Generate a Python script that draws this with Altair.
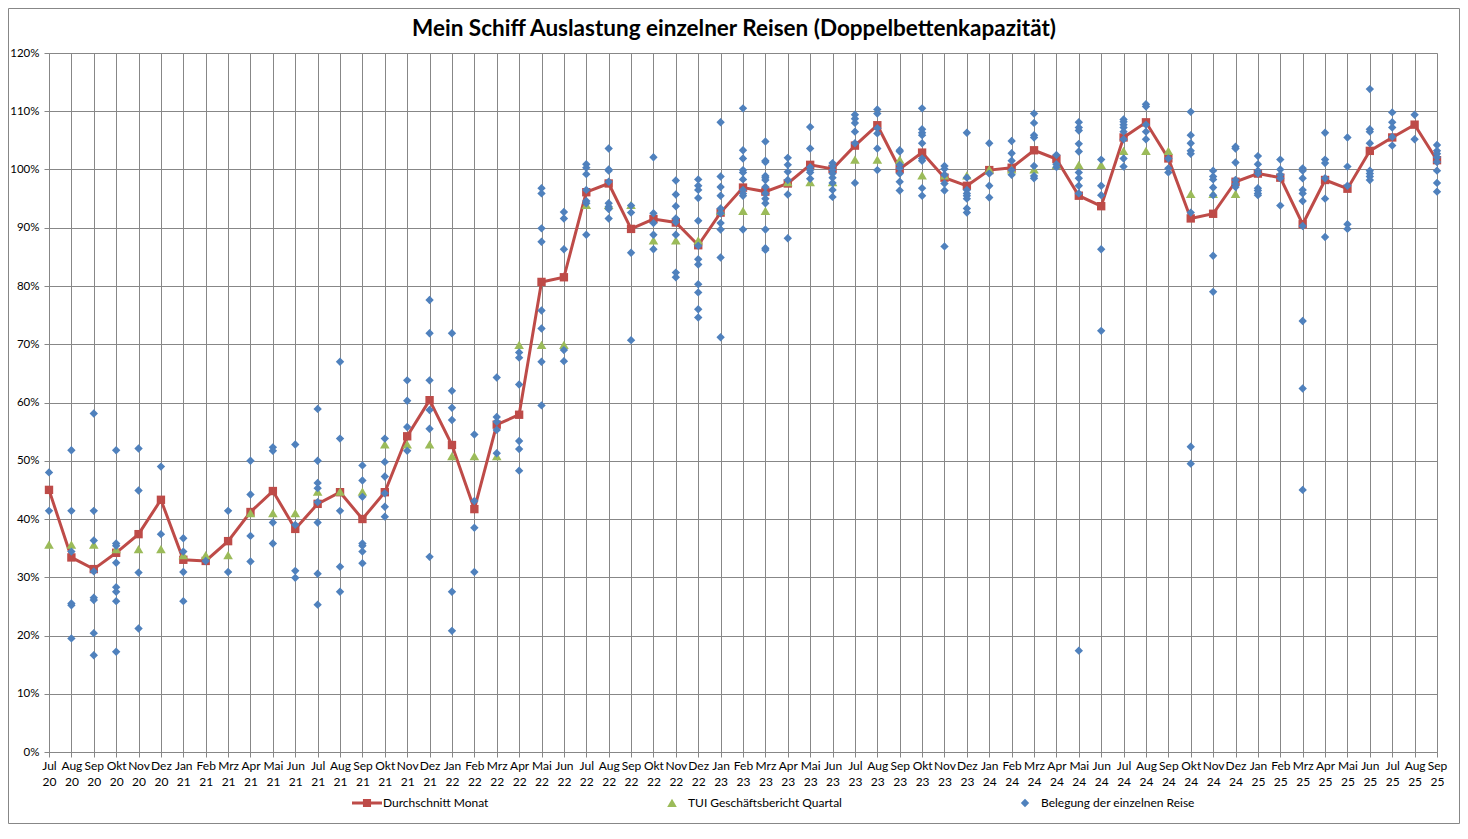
import altair as alt
import pandas as pd

# ---------------- data ----------------
title_text = "Mein Schiff Auslastung einzelner Reisen (Doppelbettenkapazität)"

month_names = ["Jan", "Feb", "Mrz", "Apr", "Mai", "Jun", "Jul", "Aug", "Sep", "Okt", "Nov", "Dez"]
months = [f"{month_names[(6 + i) % 12]} {20 + (6 + i) // 12}" for i in range(63)]

mean_month = [45.0, 33.4, 31.4, 34.2, 37.4, 43.3, 33.0, 32.8, 36.2, 41.2, 44.8, 38.3,
              42.6, 44.6, 40.0, 44.6, 54.2, 60.4, 52.7, 41.7, 56.2, 57.9, 80.7, 81.5,
              96.1, 97.6, 89.8, 91.5, 90.9, 87.0, 92.6, 96.9, 96.2, 97.6, 100.8, 100.1,
              104.1, 107.6, 100.1, 102.9, 98.6, 97.2, 99.9, 100.3, 103.3, 101.8, 95.5, 93.7,
              105.5, 108.1, 101.9, 91.6, 92.4, 97.9, 99.3, 98.6, 90.6, 98.2, 96.7, 103.2,
              105.5, 107.7, 101.6]

tui_quarter = [35.6, 35.6, 35.6, 34.8, 34.8, 34.8, 33.8, 33.8, 33.8, 41.0, 41.0, 41.0,
               44.7, 44.7, 44.7, 52.8, 52.8, 52.8, 50.8, 50.8, 50.8, 69.9, 69.9, 69.9,
               93.9, 93.9, 93.9, 87.8, 87.8, 87.8, 92.9, 92.9, 92.9, 97.8, 97.8, 97.8,
               101.7, 101.7, 101.7, 99.0, 99.0, 99.0, 100.0, 100.0, 100.0, 100.8, 100.8, 100.8,
               103.2, 103.2, 103.2, 95.8, 95.8, 95.8, None, None, None, None, None, None,
               None, None, None]

trips = [
    [48.0, 41.4],
    [51.8, 41.4, 34.4, 25.5, 25.2, 19.5],
    [58.1, 41.4, 36.3, 31.0, 26.5, 26.1, 20.4, 16.6],
    [51.8, 35.8, 35.4, 32.5, 28.3, 27.5, 25.9, 17.2],
    [52.1, 44.9, 30.8, 21.2],
    [49.0, 37.4],
    [36.7, 34.4, 30.9, 25.9],
    [32.8],
    [41.4, 30.9],
    [50.0, 44.2, 37.1, 32.7],
    [52.3, 51.7, 39.4, 35.8],
    [52.8, 39.0, 31.1, 29.9],
    [58.9, 50.0, 46.2, 45.3, 42.9, 39.4, 30.6, 25.3],
    [67.0, 53.8, 41.4, 31.8, 27.5],
    [49.2, 46.6, 43.8, 35.8, 35.4, 34.4, 32.4],
    [53.8, 49.8, 47.3, 44.4, 42.1, 40.4],
    [63.8, 60.3, 55.8, 51.7],
    [77.6, 71.9, 63.8, 58.7, 55.5, 33.5],
    [71.9, 62.0, 59.1, 57.0, 27.5, 20.8],
    [54.5, 43.1, 38.5, 30.9],
    [64.3, 57.5, 56.7, 55.3, 51.3],
    [68.6, 67.7, 63.1, 53.4, 52.0, 48.3],
    [96.8, 95.9, 89.9, 87.6, 75.8, 72.7, 67.0, 59.5],
    [92.7, 91.6, 86.3, 69.0, 67.1],
    [100.9, 100.3, 99.2, 96.5, 94.6, 94.2, 88.8],
    [103.6, 100.0, 99.8, 97.9, 94.2, 93.6, 93.2, 91.6],
    [93.8, 92.6, 85.7, 70.7],
    [102.1, 92.5, 90.8, 88.8, 86.3],
    [98.1, 95.7, 93.7, 91.6, 91.0, 88.8, 82.3, 81.5],
    [98.3, 97.2, 96.5, 95.1, 91.2, 86.9, 84.6, 83.7, 80.3, 78.9, 76.0, 74.6],
    [108.1, 98.8, 97.0, 95.5, 93.3, 92.5, 90.8, 89.7, 84.9, 71.2],
    [110.5, 103.3, 101.9, 99.9, 99.5, 98.3, 96.5, 95.9, 95.5, 89.7],
    [104.8, 101.5, 101.3, 98.9, 98.6, 98.2, 97.0, 95.9, 95.0, 94.2, 89.7, 86.5, 86.2],
    [102.0, 100.8, 99.6, 98.2, 95.7, 88.2],
    [107.3, 103.6, 100.4, 99.9, 99.5, 98.4],
    [101.1, 100.6, 99.9, 99.3, 98.6, 97.7, 96.5, 95.3],
    [109.4, 108.7, 108.0, 106.5, 104.5, 97.7],
    [110.3, 109.6, 107.1, 106.2, 103.6, 99.9],
    [103.3, 103.1, 100.8, 100.2, 99.3, 97.9, 96.4],
    [110.5, 106.9, 106.3, 105.9, 104.5, 101.9, 101.5, 96.8, 95.5],
    [100.6, 100.1, 99.1, 97.6, 96.4, 86.8],
    [106.3, 98.6, 96.5, 95.9, 95.5, 95.0, 93.3, 92.6],
    [104.5, 99.3, 97.2, 95.2],
    [104.9, 102.8, 101.5, 99.9, 99.1],
    [109.6, 108.0, 105.9, 105.5, 100.6, 98.9, 98.5],
    [102.5, 100.9, 100.4],
    [108.1, 107.2, 106.7, 104.4, 103.1, 99.5, 98.5, 97.2, 95.9, 17.4],
    [101.7, 97.2, 95.6, 86.3, 72.3],
    [108.6, 108.2, 107.7, 107.2, 106.5, 105.2, 101.9, 100.5],
    [111.2, 110.8, 107.7, 106.5, 105.2],
    [101.9, 100.2, 99.5],
    [109.9, 105.9, 104.5, 103.2, 102.7, 92.6, 52.4, 49.5],
    [99.8, 98.8, 98.3, 96.9, 95.6, 85.2, 79.0],
    [103.9, 103.6, 101.2, 98.2, 97.5, 97.0],
    [102.3, 100.9, 99.8, 99.3, 96.8, 96.4, 95.9, 95.6],
    [101.7, 100.0, 99.1, 98.5, 93.8],
    [100.2, 99.8, 98.5, 96.5, 95.9, 94.6, 90.3, 74.0, 62.4, 45.0],
    [106.3, 101.7, 101.1, 98.5, 95.0, 88.4],
    [105.5, 100.5, 97.2, 90.6, 89.8],
    [113.8, 106.9, 106.5, 104.5, 99.8, 99.3, 98.8, 98.2],
    [109.8, 108.1, 107.2, 105.6, 104.1],
    [109.4, 105.2],
    [104.2, 103.2, 102.7, 102.1, 101.3, 99.8, 97.7, 96.2],
]

series_names = ["Durchschnitt Monat", "TUI Geschäftsbericht Quartal", "Belegung der einzelnen Reise"]
series_colors = ["#BE4B48", "#9BBB59", "#4F81BD"]
# custom symbols in a [-1,1] box (legend symbol box = 30px)
series_shapes = [
    "M-1,-0.1H1V0.1H-1Z M-0.27,-0.27H0.27V0.27H-0.27Z",
    "M0,-0.28L0.32,0.27L-0.32,0.27Z",
    "M0,-0.28L0.28,0L0,0.28L-0.28,0Z",
]

# ---------------- frames ----------------
rows = []
for m, v in zip(months, mean_month):
    rows.append({"month": m, "value": v, "series": series_names[0], "k": 0})
for m, v in zip(months, tui_quarter):
    if v is not None:
        rows.append({"month": m, "value": v, "series": series_names[1], "k": 1})
for m, vals in zip(months, trips):
    for v in vals:
        rows.append({"month": m, "value": v, "series": series_names[2], "k": 2})
df_pts = pd.DataFrame(rows)
df_mean = pd.DataFrame({"month": months, "value": mean_month})

GRID = "#878787"
FONT = "Lato"

x_enc = alt.X(
    "month:N", sort=months,
    scale=alt.Scale(type="point", padding=0),
    axis=alt.Axis(
        title=None, labelAngle=0, labelOverlap=False,
        labelExpr="split(datum.label, ' ')",
        labelFont=FONT, labelFontSize=12, labelColor="#000000",
        labelLineHeight=16, labelBaseline="top", labelPadding=3,
        grid=True, gridColor=GRID, gridWidth=1,
        domainColor=GRID, tickColor=GRID, tickSize=5,
    ),
)
y_enc = alt.Y(
    "value:Q",
    scale=alt.Scale(domain=[0, 120], nice=False, zero=True),
    axis=alt.Axis(
        title=None, values=list(range(0, 121, 10)),
        labelExpr="datum.value + '%'",
        labelFont=FONT, labelFontSize=11.5, labelColor="#000000", labelPadding=5,
        grid=True, gridColor=GRID, gridWidth=1,
        domainColor=GRID, tickColor=GRID, tickSize=5,
    ),
)

line = alt.Chart(df_mean).mark_line(color=series_colors[0], strokeWidth=3).encode(
    x=x_enc, y=y_enc
)

is_mean = "datum.series === 'Durchschnitt Monat'"
points = alt.Chart(df_pts).mark_point(filled=True, opacity=1, strokeWidth=0).encode(
    x=x_enc,
    y=y_enc,
    color=alt.Color(
        "series:N",
        scale=alt.Scale(domain=series_names, range=series_colors),
        legend=alt.Legend(
            title=None, orient="none", legendX=303, legendY=735,
            direction="horizontal", columnPadding=168, gridAlign="each",
            symbolSize=900, symbolStrokeWidth=0, labelOffset=1,
            labelFont=FONT, labelFontSize=12, labelColor="#000000", labelLimit=300,
            padding=0,
        ),
    ),
    shape=alt.condition(
        is_mean, alt.value("square"),
        alt.Shape("series:N", scale=alt.Scale(domain=series_names, range=series_shapes),
                  legend=alt.Legend(title=None)),
    ),
    size=alt.condition(is_mean, alt.value(70), alt.value(900)),
    order=alt.Order("k:Q"),
)

# outer chart frame (decoration) and chart title
frame = alt.Chart(alt.Data(values=[{}])).mark_rect(
    fill="transparent", stroke=GRID, strokeWidth=1
).encode(
    x=alt.value(-40.5), x2=alt.value(1410.5), y=alt.value(-44.5), y2=alt.value(770.5)
)
title = alt.Chart(alt.Data(values=[{"t": title_text}])).mark_text(
    font=FONT, fontSize=22.5, fontWeight="bold", color="#000000",
    align="center", baseline="alphabetic",
).encode(text="t:N", x=alt.value(685), y=alt.value(-17))

chart = alt.layer(frame, title, line, points).properties(
    width=1388, height=699,
    autosize=alt.AutoSizeParams(type="none"),
    padding={"left": 41, "top": 45, "right": 23, "bottom": 72},
).configure_view(stroke=GRID, strokeWidth=1).configure(background="white")

chart.save("out.html", embed_options={"renderer": "svg", "actions": False})
